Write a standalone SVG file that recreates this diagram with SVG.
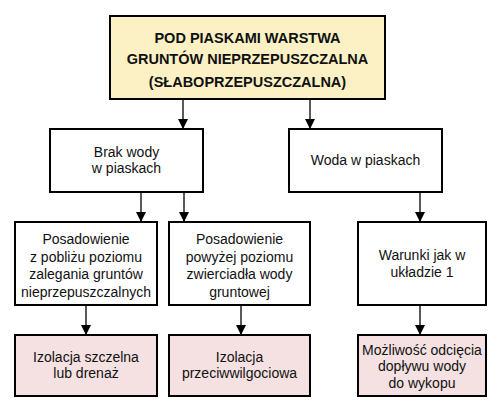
<svg xmlns="http://www.w3.org/2000/svg" width="500" height="414" viewBox="0 0 500 414">
<style>
.box{stroke:#000;stroke-width:2;fill:#fff}
.top{fill:#FBF1C4}
.pink{fill:#F5E1E1}
text{font-family:"Liberation Sans",Arial,sans-serif;font-size:14px;fill:#111;text-anchor:middle}
.b{font-weight:bold;font-size:14.5px}
.con line{stroke:#000;stroke-width:1.3}
</style>
<defs>
<marker id="ah" markerWidth="10" markerHeight="10" refX="10" refY="5" orient="auto" markerUnits="userSpaceOnUse">
<path d="M0,0 L10,5 L0,10 Z" fill="#000"/>
</marker>
</defs>
<rect width="500" height="414" fill="#fff"/>
<g class="con">
<line x1="183" y1="99" x2="183" y2="129" marker-end="url(#ah)"/>
<line x1="310" y1="99" x2="310" y2="129" marker-end="url(#ah)"/>
<line x1="141" y1="192" x2="141" y2="222" marker-end="url(#ah)"/>
<line x1="184" y1="192" x2="184" y2="222" marker-end="url(#ah)"/>
<line x1="420" y1="192" x2="420" y2="222" marker-end="url(#ah)"/>
<line x1="86" y1="305" x2="86" y2="335" marker-end="url(#ah)"/>
<line x1="241" y1="305" x2="241" y2="335" marker-end="url(#ah)"/>
<line x1="420" y1="305" x2="420" y2="335" marker-end="url(#ah)"/>
</g>
<g id="n-top">
<rect class="box top" x="110" y="16" width="275" height="83"/>
<text class="b" x="247.5" y="43">POD PIASKAMI WARSTWA</text>
<text class="b" x="247.5" y="64">GRUNTÓW NIEPRZEPUSZCZALNA</text>
<text class="b" x="247.5" y="87">(SŁABOPRZEPUSZCZALNA)</text>
</g>
<g id="n-brak">
<rect class="box" x="50" y="129" width="153" height="63"/>
<text x="126.5" y="157">Brak wody</text>
<text x="126.5" y="173">w piaskach</text>
</g>
<g id="n-woda">
<rect class="box" x="289" y="129" width="153" height="63"/>
<text x="365.5" y="165">Woda w piaskach</text>
</g>
<g id="n-pos1">
<rect class="box" x="15" y="222" width="142" height="83"/>
<text x="86" y="244">Posadowienie</text>
<text x="86" y="262">z pobliżu poziomu</text>
<text x="86" y="279">zalegania gruntów</text>
<text x="86" y="297">nieprzepuszczalnych</text>
</g>
<g id="n-pos2">
<rect class="box" x="169" y="222" width="141" height="83"/>
<text x="239.5" y="244">Posadowienie</text>
<text x="239.5" y="262">powyżej poziomu</text>
<text x="239.5" y="279">zwierciadła wody</text>
<text x="239.5" y="297">gruntowej</text>
</g>
<g id="n-war">
<rect class="box" x="358" y="222" width="128" height="83"/>
<text x="422" y="260">Warunki jak w</text>
<text x="422" y="277">układzie 1</text>
</g>
<g id="n-izo1">
<rect class="box pink" x="15" y="335" width="142" height="61"/>
<text x="86" y="362">Izolacja szczelna</text>
<text x="86" y="378">lub drenaż</text>
</g>
<g id="n-izo2">
<rect class="box pink" x="169" y="335" width="141" height="61"/>
<text x="239.5" y="362">Izolacja</text>
<text x="239.5" y="378">przeciwwilgociowa</text>
</g>
<g id="n-moz">
<rect class="box pink" x="358" y="335" width="128" height="61"/>
<text x="422" y="355">Możliwość odcięcia</text>
<text x="422" y="371">dopływu wody</text>
<text x="422" y="388">do wykopu</text>
</g>
</svg>
